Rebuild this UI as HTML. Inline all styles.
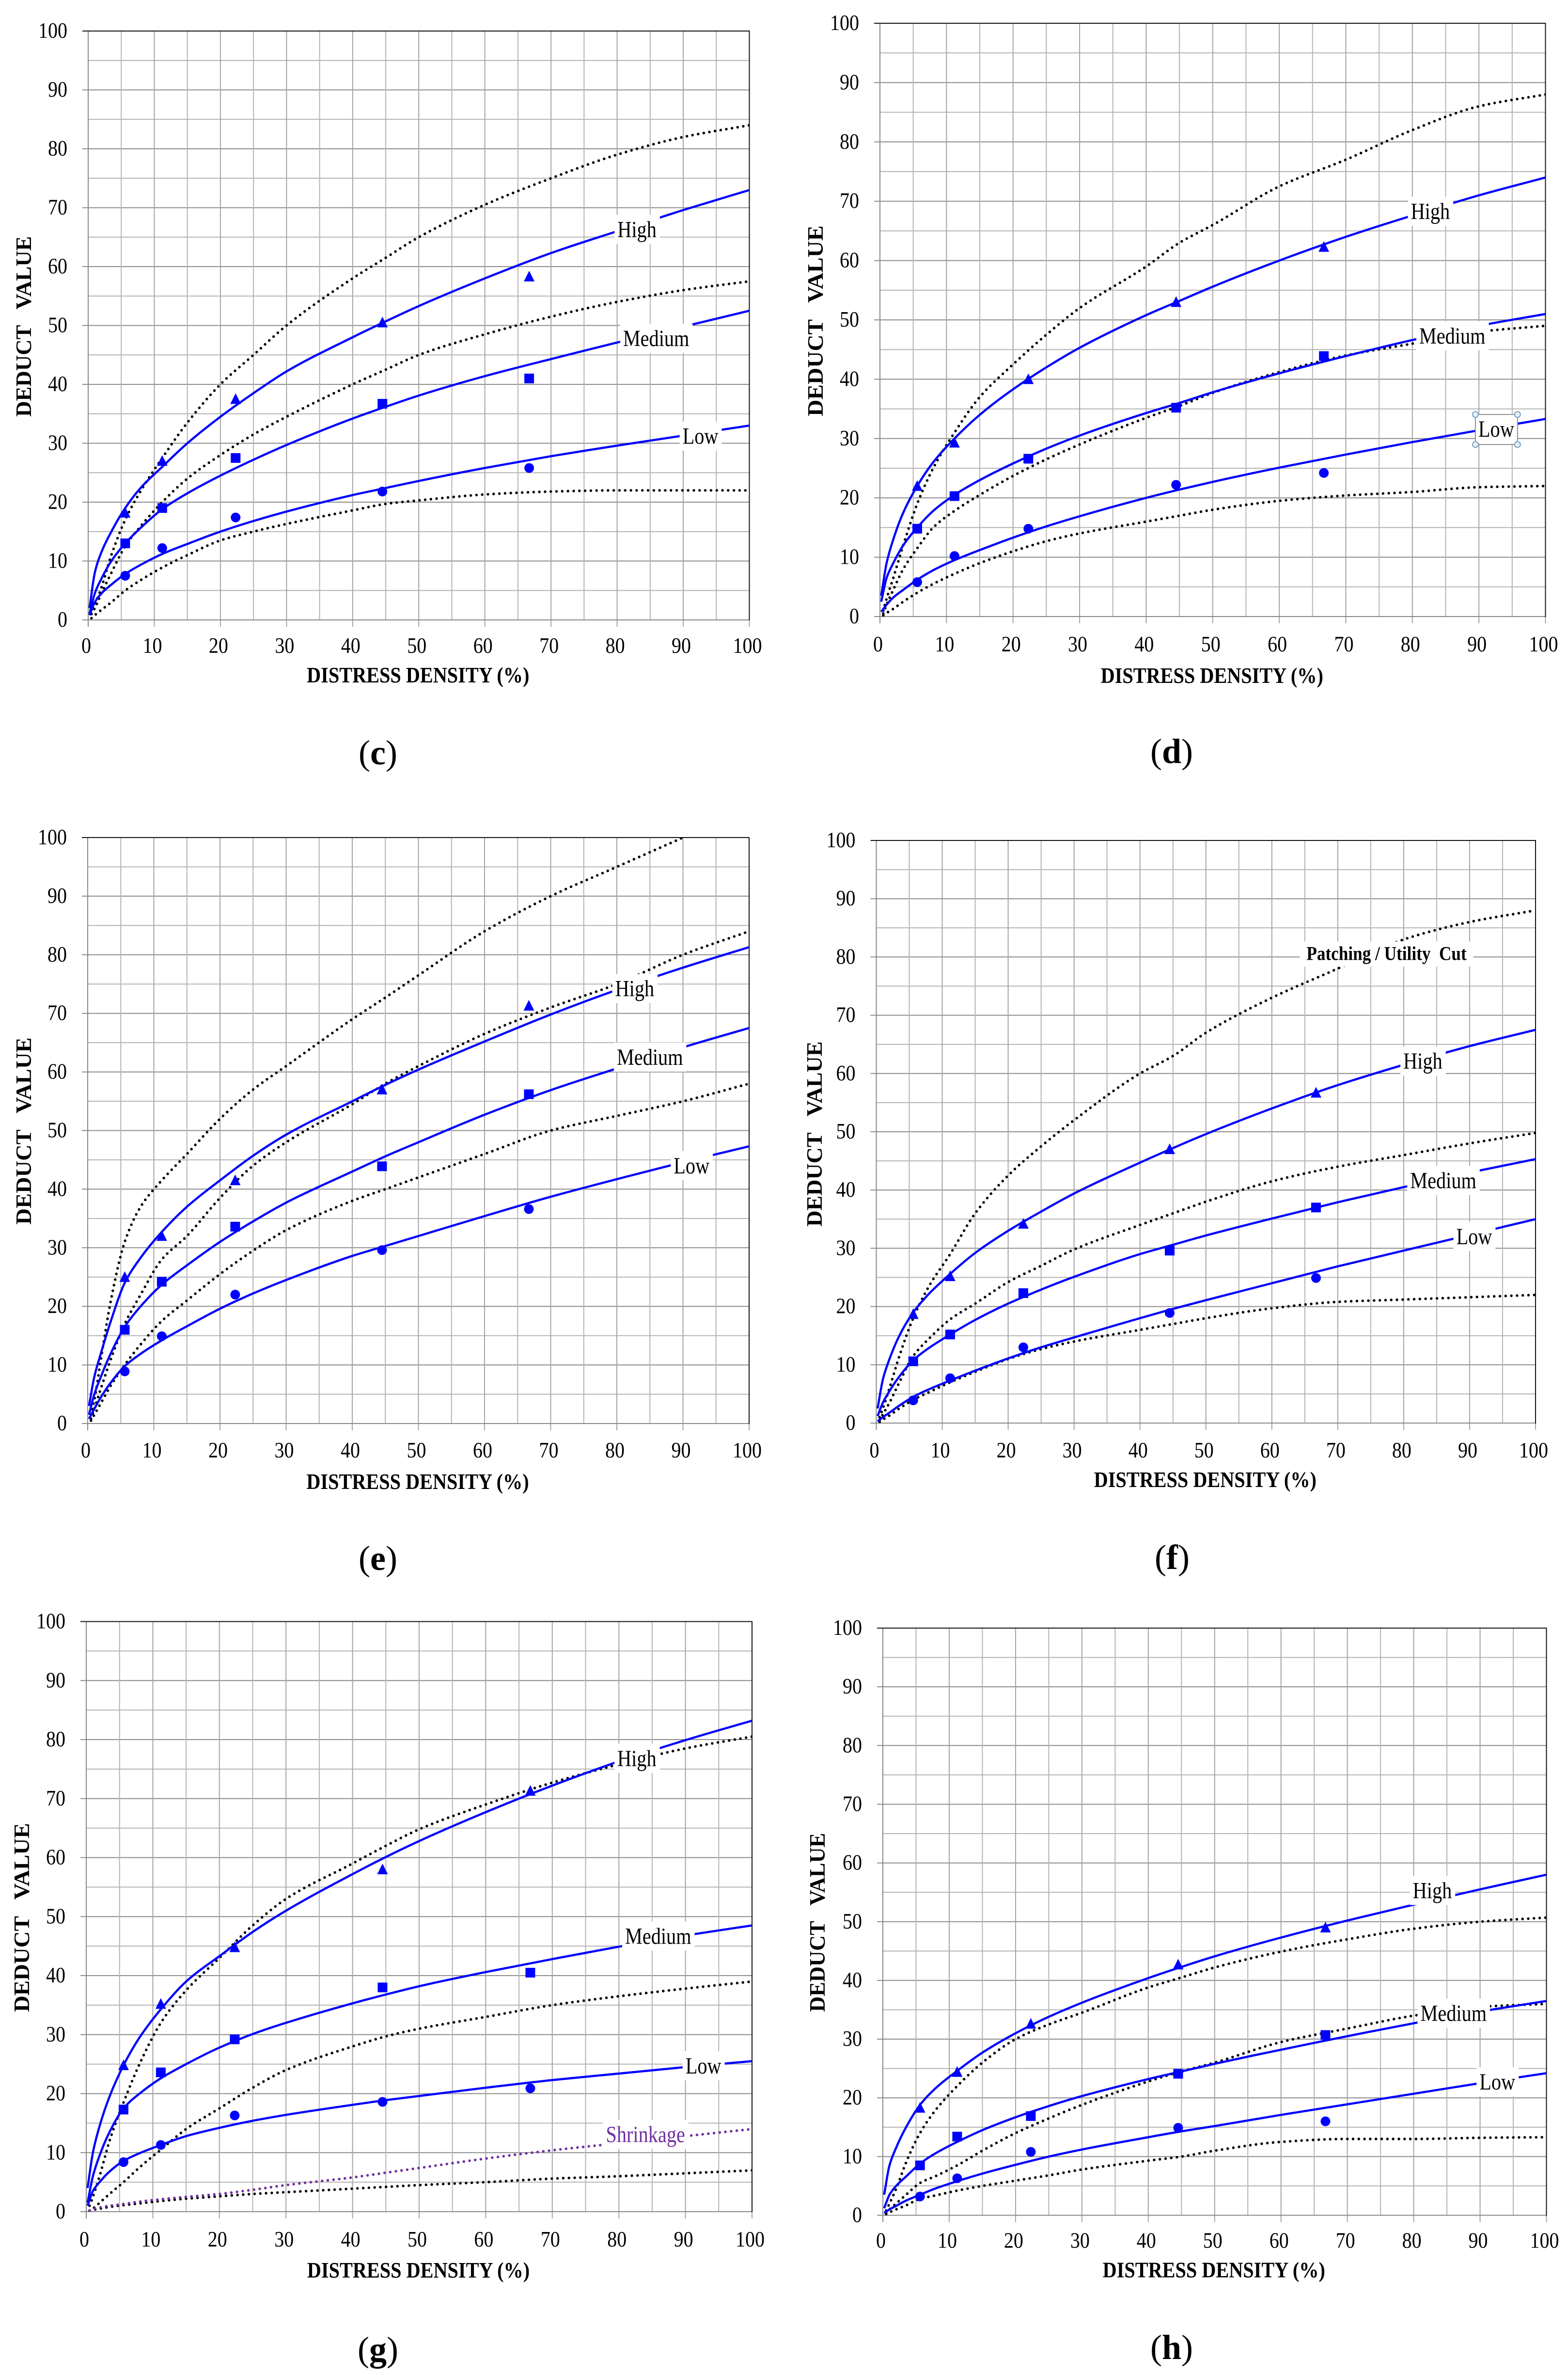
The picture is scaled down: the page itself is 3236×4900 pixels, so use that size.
<!DOCTYPE html>
<html lang="en">
<head>
<meta charset="utf-8">
<title>Deduct value curves (c)-(h)</title>
<style>
html,body{margin:0;padding:0;background:#fff;}
svg{display:block;}
text{font-family:"Liberation Serif","Times New Roman",serif;fill:#000;white-space:pre;}
</style>
</head>
<body>
<svg id="figure" xmlns="http://www.w3.org/2000/svg" width="3236" height="4900" viewBox="0 0 3236 4900">
<rect width="3236" height="4900" fill="#fff"></rect>
</svg>
<script>
// Shared axes data
const xTickLabels=[0,10,20,30,40,50,60,70,80,90,100];
const yTickLabels=[0,10,20,30,40,50,60,70,80,90,100];
const solidDensity=[0.2,1,2,3.5,5.6,8,11.2,15,20,25,30,40,45,50,60,70,80,90,100];
const dottedDensity=[0.5,1,2,3.5,5.6,8,11.2,15,20,25,30,40,45,50,60,70,80,90,100];
const markerDensity=[5.6,11.2,22.3,44.5,66.7];

// Panel c
const cHighFit=[2,8,11.5,15,19,22.5,26,30,34.5,38.5,42.2,48,50.7,53.3,58,62.3,66,69.6,73];
const cMediumFit=[1,4.5,7,10,13,15.7,18.8,21.5,24.5,27.2,29.7,34.2,36.2,38.1,41.4,44.3,47.1,49.8,52.5];
const cLowFit=[0.8,3,4.5,6,7.8,9.4,11.2,12.9,15,16.8,18.4,21.2,22.4,23.6,25.8,27.8,29.6,31.3,33];
const cHighRef=[1,2.5,5.5,11,17,22,27.5,33.5,40,45,50,58,61.5,65,70.5,75,79,82,84];
const cMediumRef=[1,2,4.5,8,12.5,16,20,24,28,31.5,34.5,40,42.5,45,48.5,51.5,54,56,57.5];
const cLowRef=[0.3,0.8,1.7,3,5,6.8,8.9,11,13.5,15,16.3,18.6,19.7,20.3,21.3,21.8,22,22,22];
const cHighPoints=[18.2,27,37.5,50.5,58.3];
const cMediumPoints=[13,19,27.5,36.7,41];
const cLowPoints=[7.5,12.2,17.4,21.8,25.8];

// Panel d
const dHighFit=[3.5,9,13,17.5,22,26,30,34,38.3,42,45.3,50.8,53.2,55.6,60,64,67.6,71,74];
const dMediumFit=[2.5,6.5,9,12,15,17.8,20.5,23,25.8,28.3,30.5,34.3,36,37.8,41,43.9,46.6,49,51];
const dLowFit=[0.8,2,3.2,4.5,6.2,7.8,9.5,11.2,13.3,15.2,16.9,20,21.4,22.7,25.1,27.3,29.4,31.4,33.3];
const dHighRef=[1,3,6.5,12,19,25,31,37,42.5,47.5,52,59,63,66,72.5,77,82,86,88];
const dMediumRef=[0.5,2,4.5,8,11.5,15,17.8,20.5,23.7,26.5,29,33.5,35.5,37.7,41.2,44,46,48,49];
const dLowRef=[0.2,0.6,1.3,2.5,4,5.5,7.2,9,11,12.7,14,16,17,18,19.5,20.4,21,21.8,22];
const dHighPoints=[22,29.3,40,53,62.3];
const dMediumPoints=[14.8,20.3,26.6,35.2,43.9];
const dLowPoints=[5.8,10.2,14.8,22.2,24.2];

// Panel e
const eHighFit=[3,8,12,17.5,24,28.3,32.7,37,41.5,45.7,49.3,55,57.8,60.4,65.2,69.8,74,77.8,81.3];
const eMediumFit=[1.5,5,8,12,16.5,20,23.7,27,31,34.5,37.7,43,45.6,48,52.7,56.9,60.6,64.2,67.5];
const eLowFit=[0.8,2.5,4.5,7,9.8,11.9,14.2,16.6,19.6,22.2,24.5,28.6,30.3,32,35.4,38.7,41.7,44.6,47.3];
const eTopRef=[1.5,4,11,21,31,37,41.5,46,52,57,61,69,72.7,76.5,84,90,95,100,105];
const eHighRef=[0.8,2.5,6,11,17,22,28,32,38.5,44,48,54.5,58,61,66.5,71,75,80,84];
const eMediumRef=[0.5,1.5,3.5,6.5,10,13.5,17.5,21,25.5,29.5,33,38,40,42,46,50,52.5,55,58];
const eHighPoints=[25,32,41.5,57,71.3];
const eMediumPoints=[16,24.2,33.6,43.9,56.2];
const eLowPoints=[8.9,14.9,22,29.6,36.6];

// Panel f
const fHighFit=[2.5,7.5,11,15,19,22.2,25.6,29.2,33,36.3,39.4,44.7,47.2,49.6,54,58,61.5,64.7,67.5];
const fMediumFit=[1.2,3.5,5.5,8,10.8,12.9,15.2,17.7,20.5,22.9,25.1,29,30.6,32.2,35.1,37.9,40.5,43,45.3];
const fLowFit=[0.3,1,1.8,3,4.5,5.8,7.3,9,11.1,13,14.7,18,19.6,21.1,24,26.9,29.6,32.3,35];
const fHighRef=[1,2.5,6,11.5,18,23.5,29,36,42.5,47.5,52,60,63,67,73,78,83,86,88];
const fMediumRef=[0.5,1.5,3.5,7,11.5,14.5,17.8,20.5,24.2,27,29.8,34,36,38,41.5,44,46,48,49.8];
const fLowRef=[0.2,0.6,1.3,2.5,4,5.3,7,8.8,11,12.7,14,16,17,18,19.7,20.8,21.2,21.6,22];
const fHighPoints=[18.7,25.2,34.2,47,56.7];
const fMediumPoints=[10.6,15.2,22.3,29.6,37];
const fLowPoints=[3.9,7.7,13,18.9,24.9];

// Panel g
const gHighFit=[4,10,14.5,19.5,24.8,29.5,34.3,39,43.3,47.4,51,57.2,60.1,62.8,67.7,72.2,76.3,79.9,83.2];
const gMediumFit=[1.5,6,9.5,13.5,17.5,20,22.6,25,27.8,30.1,32,35.3,36.8,38.2,40.6,42.8,44.9,46.8,48.5];
const gLowFit=[1,3.5,5,6.8,8.6,9.9,11.3,12.8,14.2,15.4,16.4,18.1,18.9,19.6,21,22.3,23.4,24.5,25.5];
const gHighRef=[1,2.5,6,12,18.5,25,32,37.5,43,48.5,53,59,62,64.8,69,72.7,75.8,78.5,80.5];
const gMediumRef=[0.1,0.5,1.5,3,5,7.5,10.5,14,17.5,21,24,28,29.7,31,33,35,36.5,37.8,39];
const gLowRef=[0.2,0.3,0.5,0.8,1.1,1.4,1.8,2.2,2.6,3,3.3,3.9,4.2,4.5,5,5.6,6,6.5,7];
const gShrinkage=[0.2,0.4,0.7,1,1.3,1.7,2.1,2.5,3,3.7,4.5,5.8,6.6,7.4,9,10.4,11.6,12.8,14];
const gHighPoints=[24.8,35.2,44.8,58,71.3];
const gMediumPoints=[17.3,23.6,29.2,38,40.5];
const gLowPoints=[8.4,11.3,16.3,18.6,20.9];

// Panel h
const hHighFit=[3.5,8.5,11.5,15,18.8,21.7,24.6,27.7,31,33.8,36.2,40.4,42.3,44.1,47.3,50.2,52.9,55.5,58];
const hMediumFit=[1.2,3.5,5,6.6,8.8,10.6,12.5,14.5,16.7,18.6,20.3,23.2,24.5,25.8,28.2,30.5,32.7,34.7,36.5];
const hLowFit=[0.4,1,1.6,2.5,3.5,4.6,5.8,7.1,8.6,10,11.2,13.3,14.3,15.2,17.1,18.9,20.7,22.5,24.2];
const hHighRef=[0.8,2,4.5,9,14,18,22,26,30,32.5,34.5,38.8,40.5,42.2,44.9,47,48.8,50,50.7];
const hMediumRef=[0.4,1,2,3.5,5.5,6.7,8.5,11,14,16.5,18.8,22.8,24.5,26,29.5,31.8,34,35.5,36];
const hLowRef=[0.2,0.5,1,1.7,2.8,3.4,4.2,5,5.9,6.8,7.8,9.3,10,11,12.5,13,13,13.2,13.3];
const hHighPoints=[18.3,24.4,32.6,42.7,49];
const hMediumPoints=[8.5,13.4,16.9,24.1,30.7];
const hLowPoints=[3.2,6.3,10.8,14.9,16];

const BLUE='#0000ff';
const PURPLE='#7030a0';
const SVGNS='http://www.w3.org/2000/svg';
const root=document.getElementById('figure');

const panels=[
 {id:'c',x0:182,x100:1546.5,y0:1279,y100:64,yTitleX:64,yTitleShift:2,yTitleScale:0.975,xLabelDy:68,xTitleDy:129,capX:780,capY:1577,
  fits:[cHighFit,cMediumFit,cLowFit],refs:[cHighRef,cMediumRef,cLowRef],extra:null,points:[cHighPoints,cMediumPoints,cLowPoints],
  labels:[['High',83,65],['Medium',85.9,46.5],['Low',92.6,29.9]]},
 {id:'d',x0:1816,x100:3189.5,y0:1272,y100:48,yTitleX:1698,yTitleShift:2,yTitleScale:1.03,xLabelDy:72,xTitleDy:137,capX:2418,capY:1574,
  fits:[dHighFit,dMediumFit,dLowFit],refs:[dHighRef,dMediumRef,dLowRef],extra:null,points:[dHighPoints,dMediumPoints,dLowPoints],
  labels:[['High',82.7,67],['Medium',86,46],['Low',92.6,30.3]],selected:'Low'},
 {id:'e',x0:181,x100:1546,y0:2937,y100:1728,yTitleX:64,yTitleShift:1,yTitleScale:1.01,xLabelDy:70,xTitleDy:135,capX:780,capY:3239,
  fits:[eHighFit,eMediumFit,eLowFit],refs:[eTopRef,eHighRef,eMediumRef],extra:null,points:[eHighPoints,eMediumPoints,eLowPoints],
  labels:[['High',82.7,72.9],['Medium',85,61.2],['Low',91.3,42.7]]},
 {id:'f',x0:1808.5,x100:3169,y0:2936,y100:1734,yTitleX:1696,yTitleShift:4.5,yTitleScale:1,xLabelDy:71,xTitleDy:132,capX:2419,capY:3237,
  fits:[fHighFit,fMediumFit,fLowFit],refs:[fHighRef,fMediumRef,fLowRef],extra:null,points:[fHighPoints,fMediumPoints,fLowPoints],
  labels:[['High',82.9,60.8],['Medium',86,40.3],['Low',90.7,30.7]],
  note:['Patching / Utility  Cut',77.4,79.5]},
 {id:'g',x0:178,x100:1552,y0:4563,y100:3345.5,yTitleX:60,yTitleShift:2,yTitleScale:1.02,xLabelDy:72,xTitleDy:136,capX:780,capY:4871,
  fits:[gHighFit,gMediumFit,gLowFit],refs:[gHighRef,gMediumRef,gLowRef],extra:gShrinkage,points:[gHighPoints,gMediumPoints,gLowPoints],
  labels:[['High',82.7,75.5],['Medium',85.9,45.4],['Low',92.7,23.4],['Shrinkage',84,11.8]]},
 {id:'h',x0:1822,x100:3191.5,y0:4570.5,y100:3359,yTitleX:1702,yTitleShift:1.5,yTitleScale:0.966,xLabelDy:67,xTitleDy:128,capX:2418,capY:4867,
  fits:[hHighFit,hMediumFit,hLowFit],refs:[hHighRef,hMediumRef,hLowRef],extra:null,points:[hHighPoints,hMediumPoints,hLowPoints],
  labels:[['High',82.8,54],['Medium',86,33.1],['Low',92.6,21.4]]}
];

function make(tag,parent){
  const el=document.createElementNS(SVGNS,tag);
  parent.appendChild(el);
  return el;
}
function line(parent,x1,y1,x2,y2,color,w){
  const el=make('line',parent);
  el.setAttribute('x1',x1);el.setAttribute('y1',y1);el.setAttribute('x2',x2);el.setAttribute('y2',y2);
  el.setAttribute('stroke',color);el.setAttribute('stroke-width',w);
  return el;
}
function label(parent,str,x,y,size,sx,anchor,bold,rot){
  const el=make('text',parent);
  el.textContent=str;
  el.setAttribute('font-size',size);
  el.setAttribute('text-anchor',anchor);
  if(bold)el.setAttribute('font-weight','bold');
  el.setAttribute('transform','translate('+x+' '+y+')'+(rot?' rotate(-90)':'')+' scale('+sx+' 1)');
  return el;
}
// Monotone cubic path through pixel points
function curvePath(px,py){
  const n=px.length,m=[],t=[];
  for(let i=0;i<n-1;i++)m.push((py[i+1]-py[i])/(px[i+1]-px[i]));
  t[0]=m[0];t[n-1]=m[n-2];
  for(let i=1;i<n-1;i++){
    if(m[i-1]*m[i]<=0){t[i]=0;continue;}
    const h0=px[i]-px[i-1],h1=px[i+1]-px[i];
    t[i]=(h0+h1)*3/((2*h1+h0)/m[i-1]+(h1+2*h0)/m[i]);
  }
  let d='M'+px[0].toFixed(1)+' '+py[0].toFixed(1);
  for(let i=0;i<n-1;i++){
    const h=(px[i+1]-px[i])/3;
    d+='C'+(px[i]+h).toFixed(1)+' '+(py[i]+t[i]*h).toFixed(1)+' '+(px[i+1]-h).toFixed(1)+' '+(py[i+1]-t[i+1]*h).toFixed(1)+' '+px[i+1].toFixed(1)+' '+py[i+1].toFixed(1);
  }
  return d;
}

panels.forEach(function(p){
  const xAt=function(d){return p.x0+d/100*(p.x100-p.x0);};
  const yAt=function(v){return p.y0-v/100*(p.y0-p.y100);};
  const g=make('g',root);
  
  

  const clip=make('clipPath',g);
  clip.setAttribute('id','clip-'+p.id);
  const clipRect=make('rect',clip);
  clipRect.setAttribute('x',p.x0);clipRect.setAttribute('y',p.y100);
  clipRect.setAttribute('width',p.x100-p.x0);clipRect.setAttribute('height',p.y0-p.y100);

  // Gridlines every 5 units, drawn from tick labels
  yTickLabels.forEach(function(t,i){
    const major=line(g,p.x0-12,yAt(t),p.x100,yAt(t),'#8c8c8c',2);
    
    
    if(i<yTickLabels.length-1){
      const minor=line(g,p.x0,yAt(t+5),p.x100,yAt(t+5),'#b4b4b4',2);
      
      
    }
    const tl=label(g,String(t),p.x0-43,yAt(t)+14,46,0.87,'end',false,false);
    
    
  });
  xTickLabels.forEach(function(t,i){
    const major=line(g,xAt(t),p.y100,xAt(t),p.y0+14,'#a4a4a4',2);
    
    
    if(i<xTickLabels.length-1){
      const minor=line(g,xAt(t+5),p.y100,xAt(t+5),p.y0,'#b4b4b4',2);
      
      
    }
    const tl=label(g,String(t),xAt(t)-4,p.y0+p.xLabelDy,46,0.87,'middle',false,false);
    
    
  });
  const leftAxis=line(g,p.x0,p.y100,p.x0,p.y0+14,'#888',2);
  
  
  const bottomAxis=line(g,p.x0-12,p.y0,p.x100,p.y0,'#888',2);
  
  
  const topBorder=line(g,p.x0-12,p.y100,p.x100+1,p.y100,'#111',2);
  
  
  const rightBorder=line(g,p.x100,p.y100,p.x100,p.y0+1,'#111',2);
  
  

  // Dotted reference curves
  const refColors=p.refs.map(function(){return '#000';});
  const allRefs=p.extra?p.refs.concat([p.extra]):p.refs;
  if(p.extra)refColors.push(PURPLE);
  allRefs.forEach(function(vals,i){
    const el=make('path',g);
    
    
    el.setAttribute('d',curvePath(dottedDensity.map(xAt),vals.map(yAt)));
    el.setAttribute('fill','none');
    el.setAttribute('stroke',refColors[i]);
    el.setAttribute('stroke-width','5.5');
    el.setAttribute('stroke-linecap','round');
    el.setAttribute('stroke-dasharray','0.01 11.8');
    el.setAttribute('clip-path','url(#clip-'+p.id+')');
  });

  // Solid fitted curves
  p.fits.forEach(function(vals){
    const el=make('path',g);
    
    
    el.setAttribute('d',curvePath(solidDensity.map(xAt),vals.map(yAt)));
    el.setAttribute('fill','none');
    el.setAttribute('stroke',BLUE);
    el.setAttribute('stroke-width','4.5');
    el.setAttribute('clip-path','url(#clip-'+p.id+')');
  });

  // Markers: triangle (high), square (medium), circle (low)
  p.points[0].forEach(function(v,i){
    const cx=xAt(markerDensity[i]),cy=yAt(v);
    const el=make('polygon',g);
    
    
    el.setAttribute('points',(cx-11)+','+(cy+10)+' '+(cx+11)+','+(cy+10)+' '+cx+','+(cy-12));
    el.setAttribute('fill',BLUE);
  });
  p.points[1].forEach(function(v,i){
    const cx=xAt(markerDensity[i]),cy=yAt(v);
    const el=make('rect',g);
    
    
    el.setAttribute('x',cx-10);el.setAttribute('y',cy-10);
    el.setAttribute('width',20);el.setAttribute('height',20);
    el.setAttribute('fill',BLUE);
  });
  p.points[2].forEach(function(v,i){
    const el=make('circle',g);
    
    
    el.setAttribute('cx',xAt(markerDensity[i]));el.setAttribute('cy',yAt(v));
    el.setAttribute('r',10);
    el.setAttribute('fill',BLUE);
  });

  // Curve labels with white boxes
  p.labels.forEach(function(lb){
    const cx=xAt(lb[1]),base=yAt(lb[2]);
    const box=make('rect',g);
    
    
    box.setAttribute('fill','#fff');
    const t=label(g,lb[0],cx,base,48,0.84,'middle',false,false);
    
    
    if(lb[0]==='Shrinkage')t.style.fill=PURPLE;
    const w=t.getComputedTextLength()*0.84;
    box.setAttribute('x',cx-w/2-6);box.setAttribute('y',base-46);
    box.setAttribute('width',w+13);box.setAttribute('height',60);
    if(p.selected===lb[0]){
      const frame=make('rect',g);
      
      
      frame.setAttribute('x',cx-w/2-6);frame.setAttribute('y',base-46);
      frame.setAttribute('width',w+13);frame.setAttribute('height',62);
      frame.setAttribute('fill','none');frame.setAttribute('stroke','#909090');frame.setAttribute('stroke-width','2');
      [[cx-w/2-6,base-46],[cx+w/2+7,base-46],[cx-w/2-6,base+16],[cx+w/2+7,base+16]].forEach(function(c){
        const h=make('circle',g);
        
        
        h.setAttribute('cx',c[0]);h.setAttribute('cy',c[1]);h.setAttribute('r',6);
        h.setAttribute('fill','#e6eff7');h.setAttribute('stroke','#7ba3c4');h.setAttribute('stroke-width','2');
      });
    }
  });
  if(p.note){
    const cx=xAt(p.note[1]),base=yAt(p.note[2]);
    const box=make('rect',g);
    
    
    box.setAttribute('fill','#fff');
    const t=label(g,p.note[0],cx,base,40,0.88,'middle',true,false);
    
    
    const w=t.getComputedTextLength()*0.88;
    box.setAttribute('x',cx-w/2-14);box.setAttribute('y',base-38);
    box.setAttribute('width',w+28);box.setAttribute('height',52);
  }

  // Axis titles
  const xTitle=label(g,'DISTRESS DENSITY (%)',(p.x0+p.x100)/2-1.5,p.y0+p.xTitleDy,46,0.875,'middle',true,false);
  
  
  const yTitle=label(g,'DEDUCT   VALUE',p.yTitleX,(p.y0+p.y100)/2+p.yTitleShift,46,p.yTitleScale,'middle',true,true);
  
  

  // Panel caption
  const cap=make('text',g);
  
  
  cap.setAttribute('x',p.capX);cap.setAttribute('y',p.capY);
  cap.setAttribute('font-size','72');
  cap.setAttribute('text-anchor','middle');
  const open=make('tspan',cap);
  open.textContent='(';
  const letter=make('tspan',cap);
  letter.setAttribute('font-weight','bold');
  letter.textContent=p.id;
  const close=make('tspan',cap);
  close.textContent=')';
});
</script>
</body>
</html>
